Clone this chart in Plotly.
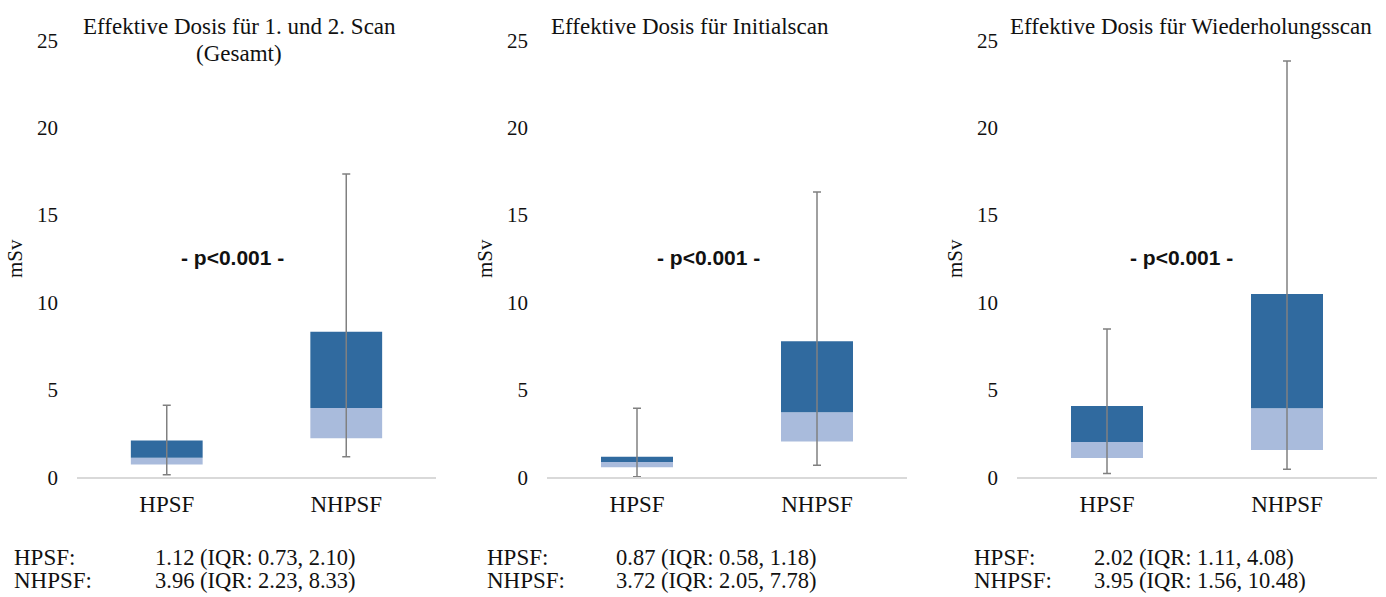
import plotly.graph_objects as go

panel_titles = ["Effektive Dosis für 1. und 2. Scan<br>(Gesamt)",
                "Effektive Dosis für Initialscan",
                "Effektive Dosis für Wiederholungsscan"]
categories = ["HPSF", "NHPSF"]

hpsf_q1 = [0.73, 0.58, 1.11]
hpsf_median = [1.12, 0.87, 2.02]
hpsf_q3 = [2.10, 1.18, 4.08]
hpsf_min = [0.15, 0.03, 0.22]
hpsf_max = [4.12, 3.95, 8.48]

nhpsf_q1 = [2.23, 2.05, 1.56]
nhpsf_median = [3.96, 3.72, 3.95]
nhpsf_q3 = [8.33, 7.78, 10.48]
nhpsf_min = [1.17, 0.69, 0.46]
nhpsf_max = [17.35, 16.32, 23.82]

p_label = "- p<0.001 -"
y_ticks = [0, 5, 10, 15, 20, 25]

W, H = 1386, 597
SERIF = "Liberation Serif"
FS = 23
DARK = "#306a9f"
LIGHT = "#a9bbdc"
GRAY = "#808080"

x_px = [(77, 436), (547, 907), (1017, 1377)]
y_bot_px, y_top_px = 477.3, 40.3

fig = go.Figure()
for i in range(3):
    xa = "x" if i == 0 else f"x{i+1}"
    ya = "y" if i == 0 else f"y{i+1}"
    q1 = [hpsf_q1[i], nhpsf_q1[i]]
    med = [hpsf_median[i], nhpsf_median[i]]
    q3 = [hpsf_q3[i], nhpsf_q3[i]]
    mn = [hpsf_min[i], nhpsf_min[i]]
    mx = [hpsf_max[i], nhpsf_max[i]]
    fig.add_trace(go.Bar(x=categories, y=[m - a for m, a in zip(med, q1)], base=q1,
                         marker=dict(color=LIGHT, line=dict(width=0)), width=0.4,
                         xaxis=xa, yaxis=ya, showlegend=False, hoverinfo="skip"))
    fig.add_trace(go.Bar(x=categories, y=[b - m for b, m in zip(q3, med)], base=med,
                         marker=dict(color=DARK, line=dict(width=0)), width=0.4,
                         xaxis=xa, yaxis=ya, showlegend=False, hoverinfo="skip"))
    fig.add_trace(go.Scatter(x=categories, y=[(a + b) / 2 for a, b in zip(mn, mx)],
                             mode="markers", marker=dict(size=1, opacity=0),
                             error_y=dict(type="data", array=[(b - a) / 2 for a, b in zip(mn, mx)],
                                          symmetric=True, color=GRAY, thickness=1.5, width=4),
                             xaxis=xa, yaxis=ya, showlegend=False, hoverinfo="skip"))

layout = dict(width=W, height=H, margin=dict(l=0, r=0, t=0, b=0, autoexpand=False),
              plot_bgcolor="white", paper_bgcolor="white", barmode="overlay",
              font=dict(family=SERIF, size=FS, color="#111111"))
annotations = []
for i in range(3):
    sx = "" if i == 0 else str(i + 1)
    x0, x1 = x_px[i]
    layout[f"xaxis{sx}"] = dict(domain=[x0 / W, x1 / W], anchor=f"y{sx}", automargin=False,
                                showline=True, linecolor="#d9d9d9", linewidth=1.5,
                                showgrid=False, ticks="", ticklabelstandoff=5,
                                tickfont=dict(family=SERIF, size=FS),
                                range=[-0.5, 1.5])
    layout[f"yaxis{sx}"] = dict(domain=[(H - y_bot_px) / H, (H - y_top_px) / H],
                                anchor=f"x{sx}", range=[0, 25], tickvals=y_ticks,
                                automargin=False,
                                showgrid=False, zeroline=False, showline=False, ticks="",
                                ticklabelstandoff=18,
                                tickfont=dict(family=SERIF, size=21),
                                title=dict(text="mSv", font=dict(family=SERIF, size=21),
                                           standoff=8))
    px_x = [233, 708, 1181][i]
    annotations.append(dict(text=f"<b>{p_label}</b>", xref="paper", yref=f"y{sx}",
                            x=px_x / W, y=12.6, xanchor="center", showarrow=False,
                            font=dict(family="Liberation Sans", size=21, color="#111111")))
    tx = [239, 690, 1191][i]
    for k, line in enumerate(panel_titles[i].split("<br>")):
        annotations.append(dict(text=line, xref="paper", yref="paper",
                                x=tx / W, y=1 - (26 + 27 * k) / H, xanchor="center",
                                yanchor="middle", showarrow=False,
                                font=dict(family=SERIF, size=FS)))
    lab_x = [12, 485, 972][i]
    val_x = [153, 614, 1092][i]
    rows = [("HPSF:", hpsf_median[i], hpsf_q1[i], hpsf_q3[i], 557),
            ("NHPSF:", nhpsf_median[i], nhpsf_q1[i], nhpsf_q3[i], 580)]
    for name, m, a, b, py in rows:
        annotations.append(dict(text=name, xref="paper", yref="paper", x=lab_x / W,
                                y=1 - py / H, xanchor="left", yanchor="middle",
                                showarrow=False, font=dict(family=SERIF, size=FS)))
        annotations.append(dict(text=f"{m:.2f} (IQR: {a:.2f}, {b:.2f})", xref="paper",
                                yref="paper", x=val_x / W, y=1 - py / H, xanchor="left",
                                yanchor="middle", showarrow=False,
                                font=dict(family=SERIF, size=22.5)))
layout["annotations"] = annotations
fig.update_layout(**layout)
fig.write_html("out.html", config={"displayModeBar": False},
               post_script="document.body.style.margin='0';document.body.style.overflow='hidden';")
